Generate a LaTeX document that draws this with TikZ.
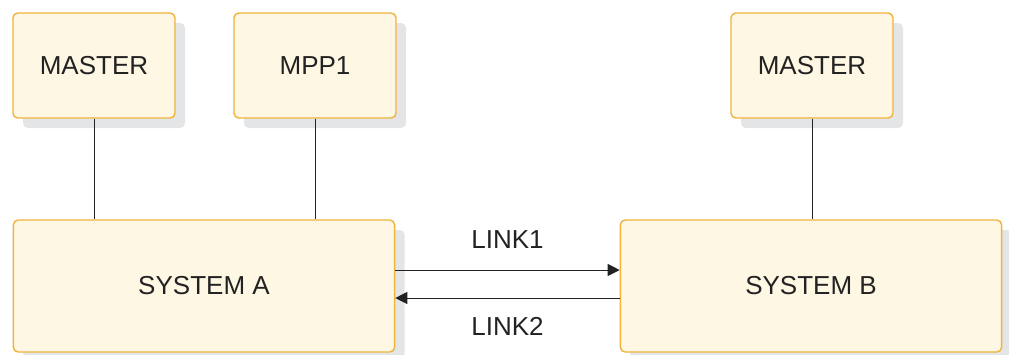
\documentclass[tikz,border=0pt]{standalone}
\usepackage{fontspec}
\setmainfont{Liberation Sans}
\usepackage{tikz}
\usetikzlibrary{arrows.meta, calc, positioning, shadows}
\definecolor{boxfill}{HTML}{FEF7E4}
\definecolor{boxedge}{HTML}{F1B33C}
\definecolor{boxshade}{HTML}{E4E5E7}
\definecolor{lnk}{HTML}{222222}
\tikzset{
  sysbox/.style  = {draw=boxedge, fill=boxfill, line width=1pt, rounded corners=1.2mm,
                    font=\fontsize{18.5}{22}\selectfont, text=lnk,
                    drop shadow={shadow xshift=0.25cm, shadow yshift=-0.25cm,
                                 fill=boxshade, opacity=1}},
  regbox/.style  = {sysbox, minimum width=4.05cm, minimum height=2.625cm},
  bigbox/.style  = {sysbox, minimum width=9.53cm, minimum height=3.3cm},
  wire/.style    = {draw=lnk, line width=0.7pt},
  linkarr/.style = {wire, -{Triangle[length=3mm, width=3mm]}},
  linklab/.style = {font=\fontsize{18.5}{22}\selectfont, text=lnk, inner sep=0pt},
}

\begin{document}
\begin{tikzpicture}[x=1cm, y=1cm]
  \useasboundingbox (0,0) rectangle (25.225,-8.85);
  % regions
  \node[regbox] (masA) at (2.35,-1.6375)  {MASTER};
  \node[regbox] (mpp)  at (7.875,-1.6375) {MPP1};
  \node[regbox] (masB) at (20.3,-1.6375)  {MASTER};
  % systems
  \node[bigbox] (sysA) at (5.1,-7.15)    {SYSTEM A};
  \node[bigbox] (sysB) at (20.275,-7.15) {SYSTEM B};
  % connections
  \draw[wire] (masA.south) -- (masA.south |- sysA.north);
  \draw[wire] (mpp.south)  -- (mpp.south |- sysA.north);
  \draw[wire] (masB.south) -- (masB.south |- sysB.north);
  \draw[linkarr] ([yshift=4mm]sysA.east) -- ([yshift=4mm]sysB.west)
    node[linklab, midway, above=5.2mm] (l1) {LINK1};
  \draw[linkarr] ([yshift=-3mm]sysB.west) -- ([yshift=-3mm]sysA.east)
    node[linklab, midway, below=4.8mm] (l2) {LINK2};
\end{tikzpicture}
\end{document}
